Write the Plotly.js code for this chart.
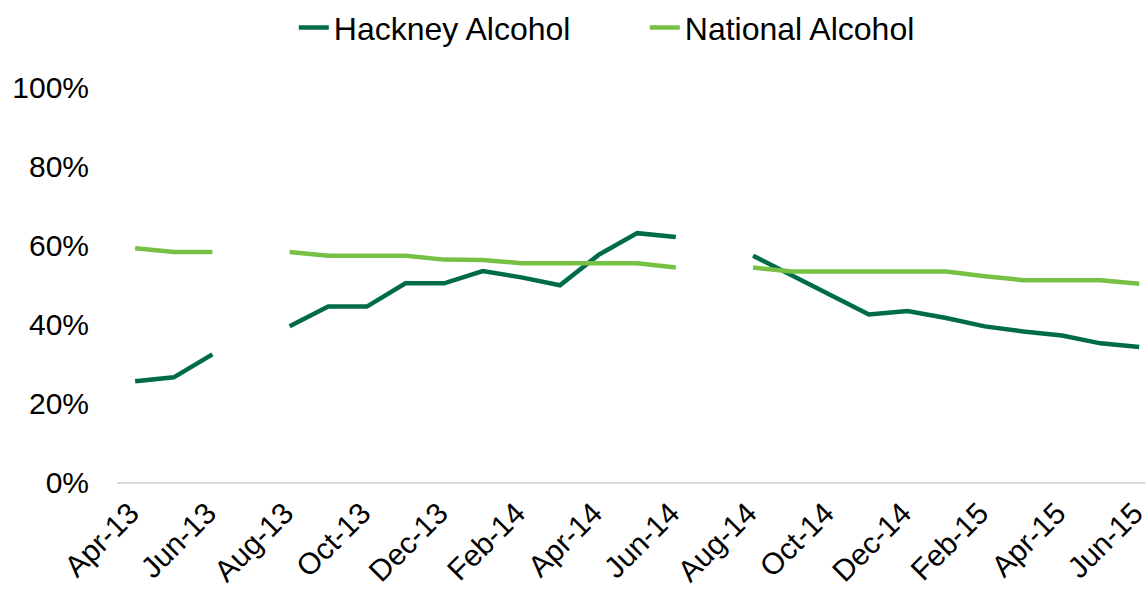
<!DOCTYPE html>
<html>
<head>
<meta charset="utf-8">
<script src="https://cdn.plot.ly/plotly-3.0.1.min.js"></script>
<style>html,body{margin:0;padding:0;background:#fff;}#chart{width:1148px;height:590px;}</style>
</head>
<body>
<div id="chart"></div>
<script>
const months = ["Apr-13","May-13","Jun-13","Jul-13","Aug-13","Sep-13","Oct-13","Nov-13","Dec-13",
  "Jan-14","Feb-14","Mar-14","Apr-14","May-14","Jun-14","Jul-14","Aug-14","Sep-14","Oct-14","Nov-14","Dec-14",
  "Jan-15","Feb-15","Mar-15","Apr-15","May-15","Jun-15"];
const hackney = [25.5,26.5,32.3,null,39.4,44.4,44.4,50.3,50.3,53.4,51.8,49.8,57.5,63,62,null,57.3,52.3,47.3,42.4,43.3,41.5,39.4,38.1,37.1,35.1,34.2];
const national = [59.2,58.2,58.2,null,58.2,57.3,57.3,57.3,56.3,56.2,55.4,55.4,55.4,55.4,54.3,null,54.3,53.3,53.3,53.3,53.3,53.3,52.1,51.1,51.1,51.1,50.2];
const tickLabels = ["Apr-13","Jun-13","Aug-13","Oct-13","Dec-13","Feb-14","Apr-14","Jun-14","Aug-14","Oct-14","Dec-14","Feb-15","Apr-15","Jun-15"];
const yTicks = [0,20,40,60,80,100];

const idx = months.map((m,i)=>i);
const traces = [
  {x: idx, y: hackney, name: "Hackney Alcohol", type: "scatter", mode: "lines",
   line: {color: "#006B4A", width: 4.5}, connectgaps: false},
  {x: idx, y: national, name: "National Alcohol", type: "scatter", mode: "lines",
   line: {color: "#76C043", width: 4.5}, connectgaps: false}
];
const layout = {
  width: 1148, height: 590,
  margin: {l: 117, r: 3, t: 87, b: 108, autoexpand: false},
  paper_bgcolor: "#fff", plot_bgcolor: "#fff",
  font: {family: "Liberation Sans, Arial, sans-serif", size: 30, color: "#000"},
  showlegend: true,
  legend: {orientation: "h", x: 0.172, xanchor: "left", y: 1.15, yanchor: "middle",
           font: {size: 32, color: "#000"}, entrywidth: 306, entrywidthmode: "pixels",
           traceorder: "normal", bgcolor: "rgba(0,0,0,0)"},
  xaxis: {range: [-0.47, 26.15], tickmode: "array",
          tickvals: tickLabels.map(t => months.indexOf(t)), ticktext: tickLabels,
          tickangle: -45, showgrid: false, zeroline: false, showline: true,
          linecolor: "#d9d9d9", linewidth: 1.5, ticks: "", tickfont: {size: 30},
          ticklabeloverflow: "allow", ticklabelshift: -5, automargin: false},
  yaxis: {range: [0, 100], tickmode: "array", tickvals: yTicks,
          ticktext: yTicks.map(v => v + "%"), showgrid: false, zeroline: false,
          showline: false, ticks: "", tickfont: {size: 30}, ticklabelstandoff: 27,
          automargin: false}
};
Plotly.newPlot("chart", traces, layout, {staticPlot: true});
</script>
</body>
</html>
